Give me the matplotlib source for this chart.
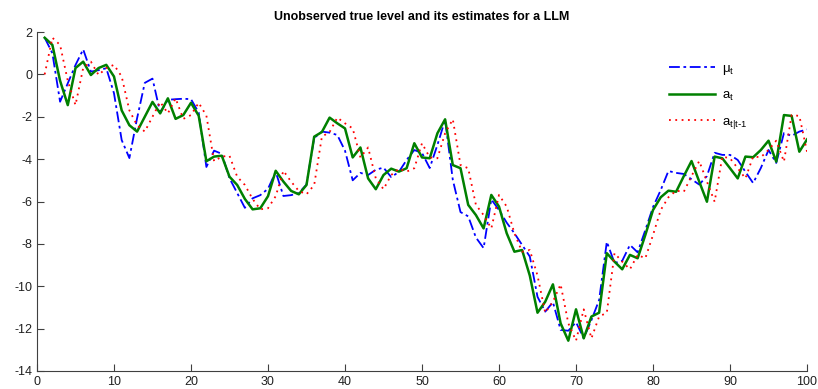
import numpy as np
import matplotlib
matplotlib.use("Agg")
import matplotlib.pyplot as plt

plt.rcParams['font.family'] = ['Liberation Sans', 'DejaVu Sans']
plt.rcParams['mathtext.default'] = 'regular'
plt.rcParams['axes.unicode_minus'] = False

t = np.arange(1, 101)

# true (unobserved) level
mu_t = [1.73, 1.0, -1.29, -0.42, 0.44, 1.18, 0.13, 0.2, 0.29, -0.89,
        -3.1, -3.95, -2.07, -0.4, -0.2, -1.8, -1.2, -1.17, -1.15, -1.17,
        -1.8, -4.37, -3.6, -3.75, -4.9, -5.6, -6.3, -5.85, -5.7, -5.4,
        -4.6, -5.74, -5.7, -5.6, -5.2, -3.0, -2.7, -2.75, -2.86, -3.6,
        -5.0, -4.65, -4.75, -4.5, -4.4, -4.85, -4.6, -4.04, -3.57, -3.71,
        -4.42, -3.33, -2.15, -4.98, -6.5, -6.7, -7.7, -8.2, -5.9, -6.4,
        -7.0, -7.5, -8.05, -8.6, -10.5, -11.2, -10.75, -12.06, -12.1, -11.7,
        -12.45, -11.6, -10.65, -7.9, -8.9, -8.8, -8.05, -8.4, -7.35, -6.26,
        -5.46, -4.56, -4.65, -4.7, -4.95, -5.2, -4.8, -3.7, -3.8, -3.8,
        -4.04, -4.6, -5.13, -4.42, -3.57, -4.18, -2.77, -2.9, -2.7, -2.6]

# filtered level a_t
a_t = [1.73, 1.39, -0.3, -1.45, 0.3, 0.6, -0.03, 0.3, 0.45, -0.1,
       -1.7, -2.4, -2.7, -2.0, -1.3, -1.84, -1.13, -2.1, -1.92, -1.34,
       -1.95, -4.1, -3.88, -3.84, -4.83, -5.22, -5.88, -6.37, -6.32, -5.75,
       -4.55, -5.06, -5.5, -5.66, -5.22, -2.94, -2.72, -2.04, -2.31, -2.55,
       -3.92, -3.45, -4.91, -5.42, -4.75, -4.45, -4.59, -4.43, -3.25, -3.92,
       -3.96, -2.78, -2.12, -4.28, -4.43, -6.16, -6.64, -7.27, -5.69, -6.24,
       -7.5, -8.37, -8.29, -9.5, -11.25, -10.73, -9.91, -11.75, -12.57, -11.09,
       -12.46, -11.43, -11.25, -8.44, -8.84, -9.2, -8.52, -8.68, -7.58, -6.4,
       -5.8, -5.49, -5.54, -4.8, -4.09, -5.06, -6.01, -3.88, -3.96, -4.43,
       -4.91, -3.88, -3.91, -3.57, -3.13, -4.12, -1.92, -1.96, -3.65, -3.07]

# one-step-ahead prediction a_{t|t-1}
a_pred = [0.0, 1.73, 1.39, -0.3, -1.45, 0.3, 0.6, -0.03, 0.3, 0.45,
          -0.1, -1.7, -2.4, -2.7, -2.0, -1.3, -1.84, -1.13, -2.1, -1.92,
          -1.34, -1.95, -4.1, -3.88, -3.84, -4.83, -5.22, -5.88, -6.37, -6.32,
          -5.75, -4.55, -5.06, -5.5, -5.66, -5.22, -2.94, -2.72, -2.04, -2.31,
          -2.55, -3.92, -3.45, -4.91, -5.42, -4.75, -4.45, -4.59, -4.43, -3.25,
          -3.92, -3.96, -2.78, -2.12, -4.28, -4.43, -6.16, -6.64, -7.27, -5.69,
          -6.24, -7.5, -8.37, -8.29, -9.5, -11.25, -10.73, -9.91, -11.75, -12.57,
          -11.09, -12.46, -11.43, -11.25, -8.44, -8.84, -9.2, -8.52, -8.68, -7.58,
          -6.4, -5.8, -5.49, -5.54, -4.8, -4.09, -5.06, -6.01, -3.88, -3.96,
          -4.43, -4.91, -3.88, -3.91, -3.57, -3.13, -4.12, -1.92, -1.96, -3.65]

fig = plt.figure(figsize=(8.18, 3.89), dpi=100)
ax = fig.add_axes([0.0452, 0.0463, 0.9414, 0.8714])

ax.plot(t, mu_t, color='blue', linestyle=(0, (6, 2, 1.5, 2)), linewidth=1.3,
        label=r'$\mu_t$')
ax.plot(t, a_t, color=(0, 0.5, 0), linestyle='-', linewidth=1.8, label=r'$a_t$')
ax.plot(t, a_pred, color='red', linestyle=(0, (1, 2.5)), linewidth=1.3,
        label=r'$a_{t|t\text{-}1}$')

ax.set_xlim(0, 100)
ax.set_ylim(-14, 2)
ax.set_xticks(np.arange(0, 101, 10))
ax.set_yticks(np.arange(-14, 3, 2))
ax.spines['top'].set_visible(False)
ax.spines['right'].set_visible(False)
for s in ('left', 'bottom'):
    ax.spines[s].set_color('#404040')
ax.tick_params(direction='in', length=5, labelsize=9, colors='#404040',
               labelcolor='#202020')

ax.set_title('Unobserved true level and its estimates for a LLM',
             fontsize=9, fontweight='bold', pad=9)

ax.legend(loc='upper left', bbox_to_anchor=(0.805, 0.945), frameon=False,
          fontsize=9.5, handlelength=3.5, labelspacing=0.95, handletextpad=0.5)

fig.savefig('out.png', dpi=100)
